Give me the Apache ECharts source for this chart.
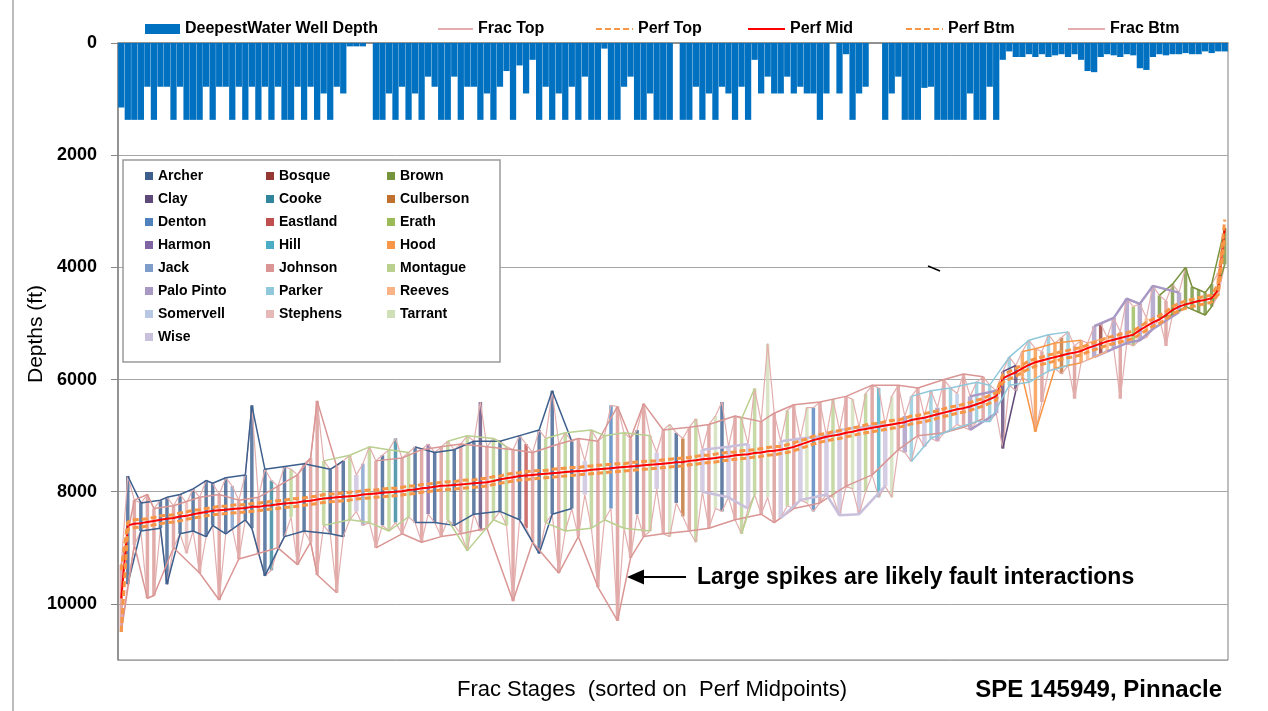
<!DOCTYPE html>
<html>
<head>
<meta charset="utf-8">
<title>Frac stages sorted on perf midpoints</title>
<script src="https://cdn.jsdelivr.net/npm/echarts@6/dist/echarts.min.js"></script>
<style>
  html, body { margin: 0; padding: 0; background: #fff; }
  #chart { width: 1268px; height: 711px; }
</style>
</head>
<body>
<div id="chart"></div>
<script>
// counties, in legend order (read row by row, 3 columns)
const countyNames = ['Archer', 'Bosque', 'Brown', 'Clay', 'Cooke', 'Culberson', 'Denton', 'Eastland',
  'Erath', 'Harmon', 'Hill', 'Hood', 'Jack', 'Johnson', 'Montague', 'Palo Pinto', 'Parker', 'Reeves',
  'Somervell', 'Stephens', 'Tarrant', 'Wise'];
const countyCodes = ['Ar', 'Bo', 'Br', 'Cl', 'Co', 'Cu', 'De', 'Ea', 'Er', 'Ha', 'Hi', 'Ho', 'Ja', 'Jo',
  'Mo', 'PP', 'Pa', 'Re', 'So', 'St', 'Ta', 'Wi'];
const countyColors = ['#3c5f8e', '#953735', '#77933c', '#5f497a', '#31859c', '#c0712f', '#4f81bd', '#c0504d',
  '#9bbb59', '#8064a2', '#4bacc6', '#f79646', '#7f9dc9', '#d99694', '#b9d08f', '#a898c4', '#8ec8da', '#f9b386',
  '#b8c7e3', '#e6b9b8', '#d0dfb8', '#c9c0dc'];

// one entry per frac stage, sorted on perf midpoint
const stageCounty = [
  'Jo','Ar','Jo','Ar','Jo','Jo','Ar','Ar','Jo','Ar',
  'St','Ar','Jo','Ar','Ar','Jo','Ar','Ja','Jo','Ar',
  'Ar','Jo','Ar','Co','Jo','Ar','Mo','Jo','Ar','Jo',
  'Jo','Mo','Ar','Jo','Ar','Mo','Wi','Ja','Mo','Jo',
  'Ar','Mo','Co','Jo','Mo','Ar','Jo','Ha','Ar','Jo',
  'Mo','Ar','Jo','Mo','Ar','Cl','Jo','Mo','Ar','Mo',
  'Jo','Ar','Ea','Jo','Ar','Mo','Ar','Jo','Mo','Ar',
  'Jo','Wi','Mo','Jo','Mo','De','Jo','Mo','Jo','Ar',
  'Jo','Mo','Wi','Jo','Ta','Ar','Cu','Jo','Mo','Wi',
  'Jo','Ta','Ar','Wi','Jo','Mo','Wi','Mo','Jo','Ta',
  'Jo','Wi','Mo','Jo','Wi','Ta','De','Jo','Wi','Mo',
  'Wi','Jo','Ta','Wi','Mo','Jo','Hi','Wi','Ta','Jo',
  'PP','Pa','Jo','Wi','Pa','PP','Jo','Pa','So','Jo',
  'PP','Pa','Jo','Pa','PP','Cl','Pa','Cl','Ho','Pa',
  'Ho','Jo','Pa','Ho','Cu','Pa','Jo','Ho','Re','PP',
  'Bo','Re','PP','Jo','PP','Er','PP','Re','PP','Br',
  'Jo','Br','PP','Br','Br','Br','Br','Br','Re','Br'
];

// deepest water well depth (ft)
const waterDepth = [
  1150,1370,1370,1370,780,1370,780,780,1370,780,
  1370,1370,1370,780,1370,780,780,1370,780,1370,
  780,1370,780,1370,780,1370,1370,780,1370,780,
  1370,900,1370,780,900,60,60,60,0,1370,
  1370,900,1370,780,1370,900,1370,600,780,1370,
  1370,600,1370,780,780,1370,900,1370,780,500,
  1370,400,900,300,1370,780,1370,900,1370,780,
  1370,600,1370,1370,100,1370,1370,780,600,1370,
  1370,900,1370,1370,1370,0,1370,1370,780,1370,
  900,1370,780,900,1370,780,1370,300,900,600,
  900,900,600,900,780,900,900,1370,900,0,
  900,200,1370,900,780,0,0,1370,900,600,
  1370,1370,1370,800,780,1370,1370,1370,1370,1370,
  900,1370,1370,780,1370,300,150,250,250,200,
  250,200,250,220,200,250,200,300,500,520,
  250,200,220,250,200,220,450,480,250,200,
  220,200,200,180,200,200,150,180,150,150
];

// perforation depths (ft)
const perfTop = [
  9400,8540,8500,8490,8480,8460,8430,8420,8410,8380,
  8360,8330,8320,8300,8280,8260,8260,8240,8230,8230,
  8210,8200,8190,8170,8160,8150,8130,8120,8110,8090,
  8080,8050,8040,8040,8020,8010,8000,7980,7970,7970,
  7950,7940,7940,7920,7900,7900,7870,7860,7850,7830,
  7820,7820,7800,7790,7790,7770,7760,7730,7720,7690,
  7670,7660,7640,7630,7620,7620,7600,7590,7580,7570,
  7570,7550,7540,7530,7520,7510,7500,7500,7480,7470,
  7460,7450,7450,7430,7420,7410,7400,7390,7370,7350,
  7350,7330,7310,7300,7290,7270,7260,7250,7230,7210,
  7200,7190,7160,7130,7090,7060,7010,6980,6960,6930,
  6910,6890,6860,6840,6810,6790,6780,6750,6730,6720,
  6690,6650,6640,6610,6580,6560,6520,6490,6470,6440,
  6410,6370,6340,6280,6240,5920,5860,5800,5740,5670,
  5630,5600,5560,5540,5500,5480,5450,5430,5380,5340,
  5300,5250,5230,5190,5170,5130,5060,4980,4920,4860,
  4790,4700,4640,4600,4570,4540,4520,4490,4300,3150
];
const perfMid = [
  9900,8600,8570,8560,8540,8520,8500,8480,8470,8440,
  8430,8400,8380,8360,8340,8330,8320,8310,8300,8290,
  8270,8270,8250,8240,8225,8210,8200,8190,8170,8160,
  8140,8120,8110,8100,8090,8080,8070,8050,8040,8030,
  8020,8010,8000,7990,7970,7960,7940,7930,7910,7895,
  7890,7880,7870,7860,7850,7840,7830,7810,7780,7760,
  7740,7720,7710,7700,7690,7680,7670,7660,7650,7640,
  7630,7625,7610,7600,7590,7580,7570,7560,7550,7540,
  7530,7520,7510,7500,7490,7475,7470,7450,7440,7420,
  7410,7400,7380,7370,7350,7340,7330,7310,7300,7280,
  7270,7250,7230,7200,7160,7120,7080,7050,7020,7000,
  6980,6950,6930,6900,6880,6860,6840,6820,6800,6780,
  6760,6720,6700,6680,6650,6620,6590,6560,6530,6510,
  6480,6440,6400,6350,6300,5980,5920,5870,5800,5740,
  5690,5660,5630,5600,5570,5540,5520,5490,5440,5400,
  5360,5320,5290,5260,5230,5200,5120,5050,4980,4930,
  4850,4760,4700,4660,4630,4600,4580,4550,4400,3300
];
const perfBtm = [
  10500,8670,8640,8630,8610,8590,8570,8550,8540,8520,
  8490,8470,8450,8430,8410,8400,8390,8380,8370,8360,
  8350,8340,8320,8310,8300,8280,8270,8260,8240,8230,
  8210,8190,8180,8170,8160,8150,8130,8120,8110,8100,
  8090,8080,8070,8060,8040,8030,8010,8000,7980,7970,
  7960,7950,7940,7930,7920,7910,7900,7870,7850,7830,
  7810,7790,7780,7770,7760,7750,7740,7730,7720,7710,
  7700,7690,7680,7670,7660,7650,7640,7630,7620,7610,
  7600,7590,7580,7570,7560,7550,7540,7520,7510,7490,
  7480,7470,7450,7440,7420,7410,7400,7380,7370,7350,
  7340,7320,7300,7270,7230,7190,7150,7120,7090,7070,
  7050,7020,7000,6970,6950,6930,6910,6890,6870,6850,
  6830,6790,6770,6750,6720,6690,6660,6630,6600,6580,
  6550,6510,6470,6420,6370,6050,5990,5940,5870,5810,
  5760,5730,5700,5670,5640,5610,5590,5560,5510,5470,
  5430,5390,5360,5330,5300,5270,5190,5120,5050,5000,
  4920,4830,4770,4730,4700,4670,4650,4620,4480,3450
];

// frac extents (ft)
const fracTop = [
  9300,7720,8150,8200,8050,8300,8150,8100,8250,8050,
  8200,7950,8100,7800,7850,8050,7750,7900,8150,7700,
  6460,8100,7600,7800,7900,7550,7600,7700,7500,7400,
  6380,7450,7600,7550,7450,7350,7700,7500,7200,7450,
  7350,7250,7050,7400,7300,7200,7250,7150,7300,7200,
  7100,7250,7150,7000,7100,6400,7200,7050,7100,7200,
  7250,7000,7150,7300,6900,7050,6200,7150,6950,7100,
  7050,7450,6900,7100,7000,6460,6480,6950,7050,6900,
  6430,7000,7300,6900,6800,6950,7050,6850,6700,7250,
  6800,6650,6400,7200,6650,6700,7150,6160,6750,5360,
  6600,7100,6550,6450,7050,6500,6500,6400,7000,6350,
  6900,6300,6350,6850,6250,6100,6150,6800,6300,6100,
  6650,6300,6150,6650,6200,6500,6000,6150,6250,5900,
  6300,6050,5950,6100,6200,5860,5600,5750,5500,5300,
  5450,5500,5200,5350,5250,5150,5400,5300,5350,5050,
  5000,5250,4900,5150,4560,4700,4650,4900,4330,4500,
  4600,4300,4450,4000,4350,4400,4450,4300,4100,3300
];
const fracBtm = [
  10500,9650,8950,8700,9900,9850,8650,9650,9000,8750,
  9100,8700,9450,8800,8600,9930,8750,8650,9200,8500,
  8650,9100,9500,9400,9000,8800,8450,9300,8700,8900,
  9480,8600,8750,9800,8800,8500,8350,8600,8550,9000,
  8600,8700,8550,8750,8450,8550,8900,8400,8550,8800,
  8500,8600,8750,9050,8400,8700,8650,8500,8350,8600,
  9950,8500,8650,8900,9100,8550,8400,9450,8700,8300,
  8800,8050,8650,9700,8500,8300,10300,8650,9180,8400,
  8800,8700,7950,8750,8800,8200,8440,8700,8900,8000,
  8650,8300,8350,8100,8500,8750,8300,8050,8400,8100,
  8550,8470,8250,8300,8150,8200,8350,8200,8050,8100,
  8420,7900,7950,8400,8000,7700,8100,7900,8100,7250,
  7300,7460,7000,7200,7050,7100,6950,6900,6800,6850,
  6900,6750,6700,6750,6600,7230,6100,6200,5950,6050,
  6930,6400,5850,5800,5900,5750,6340,5700,5650,5600,
  5550,5500,5450,6340,5350,5400,5300,5250,5100,4900,
  5400,4850,4800,4700,4750,4800,4850,4700,4500,3950
];

const stages = stageCounty.map((c, i) => String(i + 1));
const font = "'Liberation Sans', Arial, sans-serif";

function colorOf(code) {
  return countyColors[countyCodes.indexOf(code)];
}

// a county's own stages, joined only where they sit close together
function countyLine(values, code) {
  const pts = [];
  let last = -1;
  values.forEach((v, i) => {
    if (stageCounty[i] !== code) return;
    if (last >= 0 && i - last > 4) pts.push([last + 1, '-']);
    pts.push([i, v]);
    last = i;
  });
  return pts;
}

const countySeries = [];
countyCodes.forEach((code, k) => {
  [fracTop, fracBtm].forEach(values => {
    countySeries.push({
      name: countyNames[k],
      type: 'line',
      data: countyLine(values, code),
      symbol: 'none',
      color: countyColors[k],
      lineStyle: { width: code === 'Wi' || code === 'PP' ? 2.5 : 1.5 },
      z: 3
    });
  });
});

function topLegend(name, left, width, extra) {
  return Object.assign({
    data: [name],
    left: left,
    top: 20,
    padding: 0,
    itemWidth: width,
    itemHeight: 10,
    selectedMode: false,
    z: 10,
    itemStyle: { opacity: 0 },
    textStyle: { fontFamily: font, fontSize: 16, fontWeight: 'bold', color: '#000', lineHeight: 18 }
  }, extra || {});
}

function countyLegend(col, left) {
  return {
    data: countyNames.filter((n, i) => i % 3 === col),
    orient: 'vertical',
    left: left,
    top: 168,
    padding: 0,
    itemGap: 7,
    itemWidth: 8,
    itemHeight: 8,
    icon: 'rect',
    selectedMode: false,
    z: 10,
    textStyle: { fontFamily: font, fontSize: 14, fontWeight: 'bold', color: '#000', lineHeight: 16 }
  };
}

const chart = echarts.init(document.getElementById('chart'));
chart.setOption({
  animation: false,
  backgroundColor: '#fff',
  grid: { left: 118, right: 40, top: 43, bottom: 51, show: true, borderColor: '#7f7f7f', borderWidth: 1 },
  legend: [
    topLegend('DeepestWater Well Depth', 145, 35, { icon: 'rect', itemStyle: {} }),
    topLegend('Frac Top', 437, 35),
    topLegend('Perf Top', 595, 37),
    topLegend('Perf Mid', 747, 37),
    topLegend('Perf Btm', 905, 37),
    topLegend('Frac Btm', 1067, 37),
    countyLegend(0, 145),
    countyLegend(1, 266),
    countyLegend(2, 387)
  ],
  xAxis: {
    type: 'category',
    data: stages,
    boundaryGap: true,
    axisLine: { lineStyle: { color: '#868686', width: 1.5 } },
    axisTick: { interval: 9, length: 5, lineStyle: { color: '#868686' } },
    axisLabel: { show: false },
    splitLine: { show: false }
  },
  yAxis: {
    type: 'value',
    inverse: true,
    min: 0,
    max: 11000,
    interval: 2000,
    axisLine: { show: true, lineStyle: { color: '#868686', width: 1.5 } },
    axisTick: { show: true, length: 7, lineStyle: { color: '#868686' } },
    axisLabel: {
      margin: 21, showMaxLabel: false, formatter: v => String(v),
      fontFamily: font, fontSize: 18, fontWeight: 'bold', color: '#000'
    },
    splitLine: { lineStyle: { color: '#a6a6a6', width: 1 } }
  },
  series: [
    {
      name: 'DeepestWater Well Depth',
      type: 'bar',
      data: waterDepth,
      barCategoryGap: '4%',
      color: '#0070c0',
      z: 1
    },
    {
      name: 'Frac Top',
      type: 'line',
      data: fracTop,
      symbol: 'none',
      color: '#e3aeae',
      lineStyle: { width: 1.2 },
      z: 2
    },
    {
      // each stage's frac interval, in its county's colour
      name: 'Frac interval',
      type: 'custom',
      data: fracTop.map((t, i) => [i, t, fracBtm[i]]),
      encode: { x: 0, y: [1, 2] },
      z: 2,
      renderItem: (params, api) => {
        const i = api.value(0);
        const a = api.coord([i, api.value(1)]);
        const b = api.coord([i, api.value(2)]);
        const code = stageCounty[i];
        return {
          type: 'line',
          shape: { x1: a[0], y1: a[1], x2: b[0], y2: b[1] },
          style: { stroke: colorOf(code), lineWidth: code === 'Wi' || code === 'PP' ? 4.5 : 3.5, opacity: 0.8 }
        };
      }
    },
    ...countySeries,
    {
      name: 'Perf Mid',
      type: 'line',
      data: perfMid,
      symbol: 'none',
      color: '#ff0000',
      lineStyle: { width: 2 },
      z: 5
    },
    {
      name: 'Perf Top',
      type: 'line',
      data: perfTop,
      symbol: 'none',
      color: '#f79646',
      lineStyle: { width: 3, type: [6, 3] },
      z: 6
    },
    {
      name: 'Perf Btm',
      type: 'line',
      data: perfBtm,
      symbol: 'none',
      color: '#f79646',
      lineStyle: { width: 3, type: [6, 3] },
      z: 6
    },
    {
      name: 'Frac Btm',
      type: 'line',
      data: fracBtm,
      symbol: 'none',
      color: '#e3aeae',
      lineStyle: { width: 1.2 },
      z: 2
    }
  ],
  graphic: [
    // page edge on the left
    { type: 'line', shape: { x1: 13, y1: 0, x2: 13, y2: 711 }, style: { stroke: '#a6a6a6', lineWidth: 1.5 } },
    // frame behind the county legend
    { type: 'rect', z: 3, shape: { x: 123, y: 160, width: 377, height: 202 },
      style: { fill: '#fff', stroke: '#9a9a9a', lineWidth: 1.5 } },
    { type: 'text', x: 36, y: 334, rotation: Math.PI / 2, z: 10,
      style: { text: 'Depths (ft)', font: '21px ' + font, fill: '#000', textAlign: 'center', textVerticalAlign: 'middle' } },
    { type: 'text', x: 652, y: 690, z: 10,
      style: { text: 'Frac Stages  (sorted on  Perf Midpoints)', font: '22px ' + font, fill: '#000', textAlign: 'center', textVerticalAlign: 'middle' } },
    { type: 'text', x: 1222, y: 690, z: 10,
      style: { text: 'SPE 145949, Pinnacle', font: 'bold 24px ' + font, fill: '#000', textAlign: 'right', textVerticalAlign: 'middle' } },
    { type: 'text', x: 697, y: 578, z: 10,
      style: { text: 'Large spikes are likely fault interactions', font: 'bold 23px ' + font, fill: '#000', textAlign: 'left', textVerticalAlign: 'middle' } },
    { type: 'line', z: 10, shape: { x1: 642, y1: 577, x2: 686, y2: 577 }, style: { stroke: '#000', lineWidth: 2 } },
    { type: 'polygon', z: 10, shape: { points: [[627, 577], [644, 569.5], [644, 584.5]] }, style: { fill: '#000' } },
    { type: 'line', z: 10, shape: { x1: 928, y1: 266, x2: 940, y2: 271 }, style: { stroke: '#000', lineWidth: 1.5 } }
  ]
});
window.addEventListener('resize', () => chart.resize());
</script>
</body>
</html>
